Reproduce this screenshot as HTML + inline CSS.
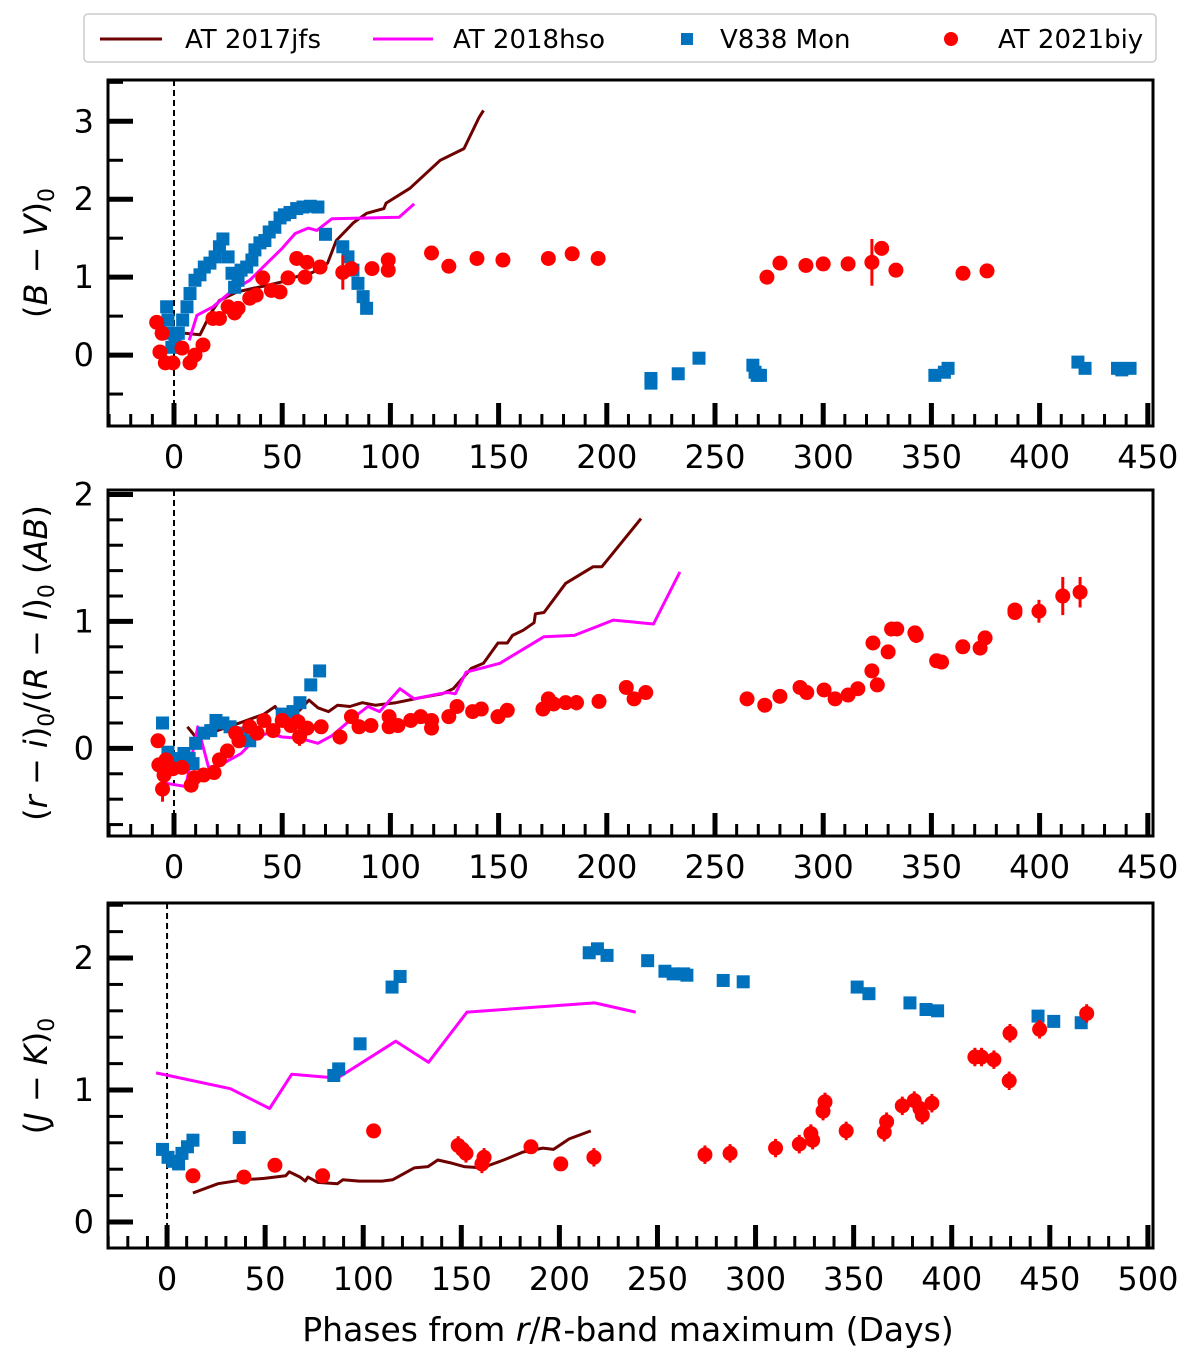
<!DOCTYPE html>
<html><head><meta charset="utf-8"><title>Colour evolution comparison</title>
<style>
html,body{margin:0;padding:0;background:#fff;}
svg{display:block;font-family:"DejaVu Sans","Liberation Sans",sans-serif;}
</style></head>
<body>
<svg id="chart" width="1200" height="1372" viewBox="0 0 1200 1372" xmlns="http://www.w3.org/2000/svg">
  <g>
    <rect x="84" y="14" width="1072" height="48" rx="4" fill="#fff" stroke="#ccc" stroke-width="1.5"/>
    <line x1="100" y1="39" x2="162" y2="39" stroke="#6e0000" stroke-width="3"/>
    <text x="185" y="48" font-size="26">AT 2017jfs</text>
    <line x1="373" y1="39" x2="433" y2="39" stroke="#ff00ff" stroke-width="3"/>
    <text x="453" y="48" font-size="26">AT 2018hso</text>
    <rect x="681" y="33" width="12" height="12" fill="#0072bd"/>
    <text x="720" y="48" font-size="26">V838 Mon</text>
    <circle cx="951" cy="39" r="7" fill="#ff0000"/>
    <text x="998" y="48" font-size="26">AT 2021biy</text>
  </g>
  <text transform="translate(47,253) rotate(-90)" text-anchor="middle" font-size="32">(<tspan font-style="italic">B</tspan> − <tspan font-style="italic">V</tspan>)<tspan font-size="22" dy="7">0</tspan></text>
  <text transform="translate(47,663) rotate(-90)" text-anchor="middle" font-size="32">(<tspan font-style="italic">r</tspan> − <tspan font-style="italic">i</tspan>)<tspan font-size="22" dy="7">0</tspan><tspan dy="-7">/(</tspan><tspan font-style="italic">R</tspan> − <tspan font-style="italic">I</tspan>)<tspan font-size="22" dy="7">0</tspan><tspan dy="-7"> (</tspan><tspan font-style="italic">AB</tspan>)</text>
  <text transform="translate(47,1076) rotate(-90)" text-anchor="middle" font-size="32">(<tspan font-style="italic">J</tspan> − <tspan font-style="italic">K</tspan>)<tspan font-size="22" dy="7">0</tspan></text>
  <text x="628" y="1341" text-anchor="middle" font-size="33">Phases from <tspan font-style="italic">r</tspan>/<tspan font-style="italic">R</tspan>-band maximum (Days)</text>
</svg>
<script>
// ---------- Panel 1: (B-V)0 ----------
const bvJfsDay = [5,12,17,21,29,37,44,50,58,64,71,75,83,89,97,98,109,123,134,141,143];
const bvJfsVal = [0.28,0.26,0.54,0.7,0.81,0.86,0.9,0.94,1.02,1.06,1.18,1.47,1.7,1.82,1.88,1.95,2.14,2.5,2.65,3.05,3.14];
const bvHsoDay = [7,10.6,18,27,35,43,50,56,62,66,73,104,111];
const bvHsoVal = [0.19,0.51,0.62,0.83,0.96,1.18,1.37,1.56,1.63,1.6,1.75,1.77,1.94];
const bvMonDay = [-3.4,-2.8,-2,-1,0.5,2,4,6,7.4,9.7,12,14,16.6,19,21,22.6,25,26.8,28,29.6,31,33.6,36,37.4,39.7,42,44,46.6,49,51,53.6,56.7,59.6,63,66.5,70,78,80.4,82.7,85,87.4,89,220.4,220.4,233,242.6,267.5,268.5,269.5,271,351.6,356,357.7,417.7,421,436,438,441.8];
const bvMonVal = [0.62,0.45,0.28,0.1,0.15,0.28,0.45,0.62,0.79,0.96,1.03,1.13,1.18,1.26,1.39,1.49,1.26,1.05,0.87,0.96,1.09,1.13,1.22,1.35,1.44,1.47,1.58,1.64,1.76,1.8,1.83,1.88,1.9,1.91,1.9,1.55,1.39,1.26,1.09,0.92,0.75,0.6,-0.3,-0.36,-0.24,-0.04,-0.13,-0.22,-0.26,-0.26,-0.26,-0.22,-0.17,-0.09,-0.17,-0.17,-0.19,-0.17];
const bvBiyDay = [-8,-5.5,-6.5,-4,-0.5,3.7,7.4,9.7,13.4,18,21,25,28,29.6,35,38,41,45,49,52.7,56.7,60.5,61.4,67.5,78,82,91.5,99,99,119,127,140,152,173,184,196,274,280,292,300,311.5,322.5,327,333.6,364.6,375.7];
const bvBiyVal = [0.42,0.28,0.04,-0.1,-0.1,0.09,-0.1,0,0.13,0.47,0.47,0.62,0.54,0.6,0.73,0.77,0.99,0.83,0.81,0.99,1.24,1.0,1.19,1.13,1.06,1.11,1.11,1.22,1.09,1.31,1.14,1.24,1.22,1.24,1.3,1.24,1.0,1.18,1.15,1.17,1.17,1.19,1.37,1.09,1.05,1.08];
const bvBiyErr = [0.05,0.03,0.03,0.03,0.03,0.03,0.03,0.03,0.03,0.03,0.03,0.03,0.03,0.03,0.03,0.03,0.03,0.04,0.06,0.03,0.03,0.04,0.03,0.03,0.22,0.05,0.06,0.04,0.04,0.03,0.03,0.06,0.03,0.03,0.03,0.03,0.03,0.03,0.03,0.03,0.03,0.3,0.04,0.03,0.06,0.03];
const bvYTicks = [0,1,2,3];
// ---------- Panel 2: (r-i)0/(R-I)0 ----------
const riJfsDay = [6.2,9.5,20,32,41.6,46.7,49,58,62.4,66.5,71.4,75.6,81.3,87,93,102.6,114,124,129,137.4,143,149.7,154,156.4,161.3,166.4,167,171,181,193.6,197.7,215.8];
const riJfsVal = [0.17,0.1,0.14,0.21,0.27,0.33,0.27,0.3,0.38,0.32,0.29,0.34,0.33,0.36,0.34,0.36,0.4,0.43,0.47,0.63,0.67,0.83,0.83,0.89,0.93,0.99,1.06,1.07,1.3,1.43,1.43,1.81];
const riHsoDay = [-5.3,5.4,11,16,22.6,31,38.4,43.4,50,58,66.5,73,81.3,89.6,95,104.4,111,122.5,126.6,130,135,150.6,171,185,203,221.6,233.8];
const riHsoVal = [-0.27,-0.3,0.17,-0.15,-0.12,-0.04,0.09,0.12,0.09,0.08,0.04,0.1,0.22,0.33,0.29,0.47,0.39,0.43,0.44,0.43,0.6,0.67,0.88,0.89,1.01,0.98,1.39];
const riMonDay = [-5.3,-2.8,-1.4,1.4,4.6,7,8.8,10,13.7,17,19.4,22.6,25.9,31,35,50,55,58.2,63.2,67.3];
const riMonVal = [0.2,-0.03,-0.08,-0.11,-0.04,-0.08,-0.12,0.04,0.12,0.14,0.22,0.2,0.17,0.12,0.06,0.27,0.29,0.36,0.5,0.61];
const riBiyDay = [-7.4,-5.3,-7,-4.6,-3.7,-0.5,3.7,7.9,9.5,13.7,18.5,21,24.7,28.5,30,35,38.4,41.6,45.8,50,54,57.3,58,61.5,68,76.7,82,85.5,91,99.4,99.4,103.5,109.4,114,119,119,127,130.8,138,142,149.7,154,170.5,173,175.4,181,186,196.4,209,212.6,218,264.8,273,280,289.3,292.4,300.4,305.5,311.5,316,322.5,325,323,330,331.6,334,342.4,343,352.4,354.7,364.5,372.5,374.8,388.6,388.6,399.7,410.7,418.7];
const riBiyVal = [0.06,-0.32,-0.13,-0.21,-0.09,-0.16,-0.15,-0.29,-0.23,-0.21,-0.19,-0.09,-0.02,0.12,0.06,0.17,0.12,0.22,0.14,0.22,0.18,0.21,0.09,0.16,0.17,0.09,0.25,0.17,0.18,0.25,0.17,0.18,0.22,0.25,0.22,0.16,0.25,0.33,0.29,0.31,0.25,0.3,0.31,0.39,0.35,0.36,0.36,0.37,0.48,0.39,0.44,0.39,0.34,0.41,0.48,0.44,0.46,0.39,0.42,0.47,0.61,0.5,0.83,0.76,0.94,0.94,0.91,0.89,0.69,0.68,0.8,0.79,0.87,1.09,1.07,1.08,1.2,1.23];
const riBiyErr = [0.02,0.1,0.03,0.03,0.03,0.03,0.03,0.03,0.03,0.03,0.03,0.03,0.03,0.03,0.03,0.03,0.03,0.03,0.03,0.03,0.03,0.03,0.07,0.03,0.03,0.06,0.03,0.03,0.03,0.03,0.03,0.03,0.03,0.03,0.03,0.03,0.03,0.03,0.03,0.03,0.03,0.03,0.03,0.04,0.03,0.03,0.06,0.03,0.03,0.03,0.03,0.03,0.03,0.03,0.03,0.03,0.03,0.03,0.03,0.03,0.03,0.03,0.03,0.03,0.03,0.03,0.03,0.06,0.03,0.03,0.03,0.03,0.03,0.03,0.03,0.09,0.15,0.12];
const riYTicks = [0,1,2];
// ---------- Panel 3: (J-K)0 ----------
const jkJfsDay = [13.2,26,38.7,49.5,60.5,62.3,67.8,70.4,71.8,76.9,86.9,89.6,97.9,109.6,115,126,133,138,144,151.4,160.6,171.6,181.5,191.6,197,205,216];
const jkJfsVal = [0.22,0.29,0.32,0.33,0.35,0.38,0.34,0.31,0.34,0.3,0.29,0.32,0.31,0.31,0.32,0.41,0.42,0.47,0.45,0.42,0.41,0.47,0.53,0.56,0.55,0.63,0.69];
const jkHsoDay = [-5.6,32.3,52.3,63.6,86.9,116.6,133.3,152.9,218,238.9];
const jkHsoVal = [1.13,1.01,0.86,1.12,1.09,1.37,1.21,1.59,1.66,1.59];
const jkMonDay = [-2.3,0.5,3,5.9,7.6,10.4,13.2,36.8,85,87.5,98.4,114.7,118.8,215.2,219.4,224.3,245,253.8,258,263.3,265,283.5,293.7,351.8,357.8,378.7,386.9,392.8,444,452,466];
const jkMonVal = [0.55,0.49,0.46,0.44,0.52,0.57,0.62,0.64,1.11,1.16,1.35,1.78,1.86,2.04,2.07,2.02,1.98,1.9,1.88,1.88,1.87,1.83,1.82,1.78,1.73,1.66,1.61,1.6,1.56,1.52,1.51];
const jkBiyDay = [13.2,39.2,55,79.3,105.3,148.4,150.6,152.4,160.5,161.6,185.5,200.7,217.6,274.2,287,310.2,322.3,328.2,329.1,334.4,335.4,346.2,365.6,366.8,374.8,380.9,383.8,385,389.9,411.8,415.2,421.5,429.3,429.7,444.8,468.8];
const jkBiyVal = [0.35,0.34,0.43,0.35,0.69,0.58,0.55,0.52,0.44,0.49,0.57,0.44,0.49,0.51,0.52,0.56,0.59,0.67,0.62,0.84,0.91,0.69,0.68,0.76,0.88,0.92,0.86,0.81,0.9,1.25,1.25,1.23,1.07,1.43,1.46,1.58];
const jkBiyErr = [0.01,0.01,0.01,0.01,0.01,0.07,0.07,0.07,0.07,0.07,0.03,0.01,0.07,0.07,0.07,0.07,0.07,0.07,0.07,0.07,0.07,0.07,0.07,0.07,0.07,0.07,0.07,0.07,0.07,0.07,0.07,0.07,0.07,0.07,0.07,0.07];
const jkYTicks = [0,1,2];
const xLabels13 = [0,50,100,150,200,250,300,350,400,450];
const xLabels3 = [0,50,100,150,200,250,300,350,400,450,500];

const NS = 'http://www.w3.org/2000/svg';
const svg = document.getElementById('chart');
function mk(tag, attrs, parent) {
  const e = document.createElementNS(NS, tag);
  for (const k in attrs) e.setAttribute(k, attrs[k]);
  (parent || svg).appendChild(e);
  return e;
}

function drawPanel(cfg) {
  const g = mk('g', {});
  
  
  const X = d => cfg.x0 + (d - cfg.dmin) / (cfg.dmax - cfg.dmin) * (cfg.x1 - cfg.x0);
  const Y = v => cfg.y1 - (v - cfg.vmin) / (cfg.vmax - cfg.vmin) * (cfg.y1 - cfg.y0);

  const dl = mk('line', {x1: X(0), x2: X(0), y1: cfg.y0, y2: cfg.y1, stroke: '#000', 'stroke-width': 2, 'stroke-dasharray': '6,4'}, g);
  
  

  function line(days, vals, color, nm) {
    const pts = days.map((d, i) => X(d).toFixed(1) + ',' + Y(vals[i]).toFixed(1)).join(' ');
    const p = mk('polyline', {points: pts, fill: 'none', stroke: color, 'stroke-width': 3, 'stroke-linejoin': 'round'}, g);
    
    
  }
  line(cfg.jfsD, cfg.jfsV, '#6e0000', 'at2017jfs-line');
  line(cfg.hsoD, cfg.hsoV, '#ff00ff', 'at2018hso-line');

  cfg.monD.forEach((d, i) => {
    const r = mk('rect', {x: X(d) - 6.5, y: Y(cfg.monV[i]) - 6.5, width: 13, height: 13, fill: '#0072bd'}, g);
    
    
  });
  cfg.biyD.forEach((d, i) => {
    const cx = X(d), cy = Y(cfg.biyV[i]), e = cfg.biyE[i];
    const eb = mk('line', {x1: cx, x2: cx, y1: Y(cfg.biyV[i] + e), y2: Y(cfg.biyV[i] - e), stroke: '#ff0000', 'stroke-width': 3}, g);
    
    
    const c = mk('circle', {cx: cx, cy: cy, r: 7.5, fill: '#ff0000'}, g);
    
    
  });

  const fr = mk('rect', {x: cfg.x0, y: cfg.y0, width: cfg.x1 - cfg.x0, height: cfg.y1 - cfg.y0, fill: 'none', stroke: '#000', 'stroke-width': 3}, g);
  
  

  for (let d = Math.ceil(cfg.dmin / 10) * 10; d <= cfg.dmax; d += 10) {
    const major = d % 50 === 0;
    const t = mk('line', {x1: X(d), x2: X(d), y1: cfg.y1, y2: cfg.y1 - (major ? 23 : 12), stroke: '#000', 'stroke-width': major ? 5 : 3}, g);
    
    
  }
  cfg.xLabels.forEach(v => {
    const t = mk('text', {x: X(v), y: cfg.y1 + 42, 'text-anchor': 'middle', 'font-size': 32}, g);
    t.textContent = v;
    
    
  });
  for (let k = Math.ceil(cfg.vmin / cfg.minorStep - 1e-6); k * cfg.minorStep <= cfg.vmax; k++) {
    const v = k * cfg.minorStep;
    const major = Math.abs(v - Math.round(v)) < 1e-6;
    const t = mk('line', {x1: cfg.x0, x2: cfg.x0 + (major ? 25 : 15), y1: Y(v), y2: Y(v), stroke: '#000', 'stroke-width': major ? 5 : 3}, g);
    
    
  }
  cfg.yLabels.forEach(v => {
    const t = mk('text', {x: cfg.x0 - 14, y: Y(v) + 11, 'text-anchor': 'end', 'font-size': 32}, g);
    t.textContent = v;
    
    
  });
}

drawPanel({name: 'panel-bv', x0: 108, x1: 1153, y0: 80, y1: 426, dmin: -30.5, dmax: 452.4, vmin: -0.91, vmax: 3.53, minorStep: 0.5,
  jfsD: bvJfsDay, jfsV: bvJfsVal, hsoD: bvHsoDay, hsoV: bvHsoVal, monD: bvMonDay, monV: bvMonVal, biyD: bvBiyDay, biyV: bvBiyVal, biyE: bvBiyErr,
  xLabels: xLabels13, yLabels: bvYTicks});
drawPanel({name: 'panel-ri', x0: 108, x1: 1153, y0: 490, y1: 836, dmin: -30.5, dmax: 452.4, vmin: -0.69, vmax: 2.035, minorStep: 0.2,
  jfsD: riJfsDay, jfsV: riJfsVal, hsoD: riHsoDay, hsoV: riHsoVal, monD: riMonDay, monV: riMonVal, biyD: riBiyDay, biyV: riBiyVal, biyE: riBiyErr,
  xLabels: xLabels13, yLabels: riYTicks});
drawPanel({name: 'panel-jk', x0: 108, x1: 1153, y0: 903, y1: 1248, dmin: -30.1, dmax: 502.6, vmin: -0.197, vmax: 2.417, minorStep: 0.2,
  jfsD: jkJfsDay, jfsV: jkJfsVal, hsoD: jkHsoDay, hsoV: jkHsoVal, monD: jkMonDay, monV: jkMonVal, biyD: jkBiyDay, biyV: jkBiyVal, biyE: jkBiyErr,
  xLabels: xLabels3, yLabels: jkYTicks});
</script>
</body></html>
